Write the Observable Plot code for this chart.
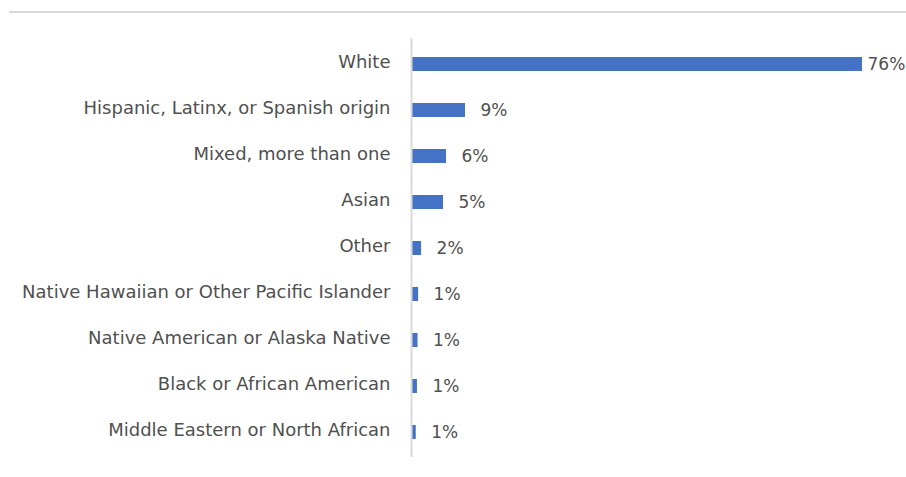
<!DOCTYPE html>
<html>
<head>
<meta charset="utf-8">
<script src="https://cdn.jsdelivr.net/npm/d3@7"></script>
<script src="https://cdn.jsdelivr.net/npm/@observablehq/plot@0.6"></script>
<style>
  html, body { margin: 0; padding: 0; background: #fff; }
  #wrap { position: relative; width: 906px; height: 477px; }
  #topline { position: absolute; left: 9px; top: 11px; width: 897px; height: 2px; background: #d9d9d9; }
  #chart { position: absolute; left: 0; top: 0; }
</style>
</head>
<body>
<div id="wrap"><div id="topline"></div><div id="chart"></div></div>
<script>
const categories = [
  "White",
  "Hispanic, Latinx, or Spanish origin",
  "Mixed, more than one",
  "Asian",
  "Other",
  "Native Hawaiian or Other Pacific Islander",
  "Native American or Alaska Native",
  "Black or African American",
  "Middle Eastern or North African"
];
const values = [76, 9.1, 5.9, 5.4, 1.7, 1.2, 1.1, 1.0, 0.8];
const labels = ["76%", "9%", "6%", "5%", "2%", "1%", "1%", "1%", "1%"];

const data = categories.map((c, i) => ({category: c, value: values[i], label: labels[i]}));

const textColor = "#505050";
const font = "DejaVu Sans, Verdana, sans-serif";

const chart = Plot.plot({
  width: 906,
  height: 477,
  marginLeft: 411,
  marginRight: 44,
  marginTop: 38,
  marginBottom: 20,
  style: {fontFamily: font, fontSize: "17px", color: textColor, background: "transparent"},
  x: {domain: [0, 76], axis: null},
  y: {domain: categories, paddingInner: 0.7, paddingOuter: 0.35, label: null},
  marks: [
    Plot.barX(data, {x: "value", y: "category", fill: "#4472c4"}),
    Plot.ruleX([0], {stroke: "#d9d9d9", strokeWidth: 2}),
    Plot.axisY({tickSize: 0, tickPadding: 21, fontSize: 18, fill: textColor, label: null, dy: -2}),
    Plot.text(data.filter(d => d.value < 50), {x: "value", y: "category", text: "label", dx: 15, textAnchor: "start", fill: textColor, fontSize: 17}),
    Plot.text(data.filter(d => d.value >= 50), {x: "value", y: "category", text: "label", dx: 5, textAnchor: "start", fill: textColor, fontSize: 17})
  ]
});
document.getElementById("chart").appendChild(chart);
</script>
</body>
</html>
